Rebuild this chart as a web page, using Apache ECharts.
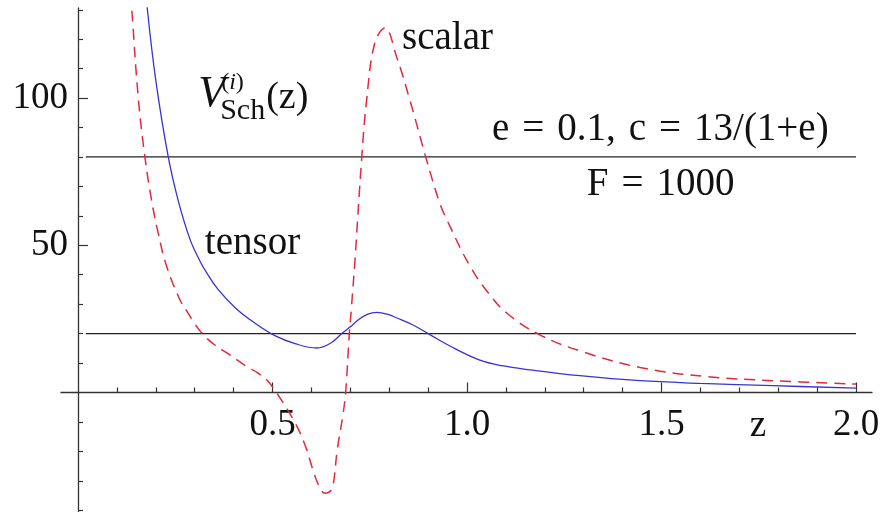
<!DOCTYPE html>
<html>
<head>
<meta charset="utf-8">
<script src="https://cdn.jsdelivr.net/npm/echarts@6/dist/echarts.min.js"></script>
<style>
  html, body { margin: 0; padding: 0; background: #ffffff; }
  #chart { width: 884px; height: 512px; }
</style>
</head>
<body>
<div id="chart"></div>
<script>
// Tensor mode of the Schrödinger-like potential (solid blue)
const tensorZ = [0.165, 0.178, 0.200, 0.232, 0.258, 0.288, 0.314, 0.331, 0.360, 0.404,
                 0.450, 0.506, 0.560, 0.614, 0.650, 0.678, 0.700, 0.720, 0.745, 0.768,
                 0.795, 0.820, 0.860, 0.900, 0.956, 1.033, 1.090, 1.162, 1.290, 1.445,
                 1.600, 1.787, 2.000];
const tensorV = [150, 130.6, 106, 80, 65.0, 52.0, 44.5, 40.6, 35.0, 28.8,
                 24.0, 19.3, 16.5, 15.1, 16.8, 20.0, 22.3, 24.6, 26.6, 27.2,
                 26.6, 25.3, 23.0, 20.0, 15.8, 11.0, 9.1, 7.7, 5.7, 4.0,
                 3.1, 2.3, 1.5];

// Scalar mode (dashed red)
const scalarZ = [0.128, 0.138, 0.155, 0.172, 0.189, 0.206, 0.228, 0.262, 0.279, 0.300,
                 0.322, 0.350, 0.382, 0.434, 0.460, 0.485, 0.510, 0.558, 0.584, 0.604,
                 0.620, 0.635, 0.648, 0.656, 0.666, 0.681, 0.688, 0.697, 0.703, 0.712,
                 0.729, 0.742, 0.763, 0.789, 0.819, 0.853, 0.896, 0.930, 0.948, 1.008,
                 1.055, 1.102, 1.188, 1.300, 1.445, 1.616, 1.787, 2.000];
const scalarV = [148, 130.6, 100, 80, 65.4, 54.2, 42.8, 31.5, 27.8, 23.4,
                 19.6, 16.3, 13.5, 8.8, 6.8, 4.3, 0.0, -10.3, -18.0, -26.3,
                 -31.9, -34.2, -33.6, -31.3, -20.0, -7.6, 0.0, 19.0, 29.0, 45.0,
                 79.0, 99.4, 118.7, 123.8, 114.0, 99.4, 79.0, 64.3, 58.7, 42.8,
                 33.8, 27.0, 19.5, 13.7, 8.5, 5.4, 4.0, 2.85];

// Horizontal reference levels
const levelValues = [80, 20];
const levelSpan = [0.02, 2.0];

// Axis ticks
const xMajorTicks = [0.5, 1.0, 1.5, 2.0];
const xMinorTicks = [0.1, 0.2, 0.3, 0.4, 0.6, 0.7, 0.8, 0.9, 1.1, 1.2, 1.3, 1.4, 1.6, 1.7, 1.8, 1.9];
const yMajorTicks = [50, 100];
const yMinorTicks = [-40, -30, -20, -10, 10, 20, 30, 40, 60, 70, 80, 90, 110, 120, 130];

const X_MIN = -0.0437, X_MAX = 2.0411;
const Y_MIN = -40.6, Y_MAX = 130.6;

const W = 884, H = 512;
const GRID = { left: 61, right: 12, top: 8, bottom: 0 };

const SERIF = '"Liberation Serif", "DejaVu Serif", serif';
const AXIS_COLOR = '#333333';
const SP = '\u2004'; // slightly wider word space used in the formula labels

function zip(xs, ys) { return xs.map((x, i) => [x, ys[i]]); }

// Distance from the grid edge to the zero line of the crossing axis
const plotW = W - GRID.left - GRID.right;
const plotH = H - GRID.top - GRID.bottom;
const zeroFromLeft = (0 - X_MIN) / (X_MAX - X_MIN) * plotW;
const zeroFromBottom = (0 - Y_MIN) / (Y_MAX - Y_MIN) * plotH;

const chart = echarts.init(document.getElementById('chart'), null, { renderer: 'canvas' });

function axisPair(dim) {
  const isX = dim === 'x';
  const base = {
    type: 'value',
    min: isX ? X_MIN : Y_MIN,
    max: isX ? X_MAX : Y_MAX,
    splitLine: { show: false },
    position: isX ? 'bottom' : 'left',
    offset: -(isX ? zeroFromBottom : zeroFromLeft)
  };
  const minor = Object.assign({}, base, {
    axisLine: { show: true, onZero: false, lineStyle: { color: AXIS_COLOR, width: 1.3 } },
    axisTick: { show: true, inside: true, length: 5, customValues: isX ? xMinorTicks : yMinorTicks,
                lineStyle: { color: AXIS_COLOR, width: 1.2 } },
    axisLabel: { show: false }
  });
  const major = Object.assign({}, base, {
    axisLine: { show: false, onZero: false },
    axisTick: { show: true, inside: true, length: 10, customValues: isX ? xMajorTicks : yMajorTicks,
                lineStyle: { color: AXIS_COLOR, width: 1.2 } },
    axisLabel: {
      show: true,
      customValues: isX ? xMajorTicks : yMajorTicks,
      fontFamily: SERIF, fontSize: 37, color: '#111111',
      margin: isX ? 14 : 10,
      formatter: isX ? (v) => Number(v).toFixed(1) : (v) => String(Math.round(v))
    }
  });
  return [minor, major];
}

const levelSeries = levelValues.map((v) => ({
  type: 'line',
  data: levelSpan.map((z) => [z, v]),
  symbol: 'none',
  silent: true,
  lineStyle: { color: '#222222', width: 1.3 },
  z: 1
}));

const option = {
  animation: false,
  backgroundColor: '#ffffff',
  grid: Object.assign({ containLabel: false, outerBoundsMode: 'none' }, GRID),
  xAxis: axisPair('x'),
  yAxis: axisPair('y'),
  series: levelSeries.concat([
    {
      name: 'scalar',
      type: 'line',
      data: zip(scalarZ, scalarV),
      symbol: 'none',
      smooth: 0.4,
      clip: true,
      lineStyle: { color: '#e2283c', width: 1.5, type: [11, 7] },
      z: 3
    },
    {
      name: 'tensor',
      type: 'line',
      data: zip(tensorZ, tensorV),
      symbol: 'none',
      smooth: 0.4,
      clip: true,
      lineStyle: { color: '#3434d4', width: 1.3 },
      z: 4
    }
  ])
};

chart.setOption(option);

// Text annotations anchored in data space (left edge, vertical middle)
const notes = [
  { at: [0.326, 50.5], text: 'tensor', size: 39 },
  { at: [0.833, 120.1], text: 'scalar', size: 39 },
  { at: [1.064, 89.2], text: ['e', '=', '0.1,', 'c', '=', '13/(1+e)'].join(SP), size: 39 },
  { at: [1.308, 70.5], text: ['F', '=', '1000'].join(SP), size: 39 },
  { at: [1.748, -11.5], text: 'z', size: 37, align: 'center' }
];
const potentialAnchor = [0.314, 101.1];

function toPx(p) { return chart.convertToPixel({ gridIndex: 0 }, p); }

const graphics = notes.map((n) => {
  const p = toPx(n.at);
  return {
    type: 'text',
    x: p[0], y: p[1],
    silent: true,
    style: {
      text: n.text,
      font: n.size + 'px ' + SERIF,
      fill: '#111111',
      textAlign: n.align || 'left',
      textVerticalAlign: 'middle'
    }
  };
});

const va = toPx(potentialAnchor);
graphics.push({
  type: 'group',
  x: va[0], y: va[1],
  silent: true,
  children: [
    { type: 'text', x: -2, y: 0,
      style: { text: 'V', font: 'italic 44px ' + SERIF, fill: '#111111', textAlign: 'left', textVerticalAlign: 'middle' } },
    { type: 'text', x: 20, y: 16,
      style: { text: 'Sch', font: '30px ' + SERIF, fill: '#111111', textAlign: 'left', textVerticalAlign: 'middle' } },
    { type: 'text', x: 21, y: -12,
      style: {
        text: '{p|(}{i|i}{p|)}',
        rich: {
          p: { font: '24px ' + SERIF, fill: '#111111' },
          i: { font: 'italic 24px ' + SERIF, fill: '#111111' }
        },
        textAlign: 'left', textVerticalAlign: 'middle'
      } },
    { type: 'text', x: 66, y: 3.5,
      style: { text: '(z)', font: '38px ' + SERIF, fill: '#111111', textAlign: 'left', textVerticalAlign: 'middle' } }
  ]
});

chart.setOption({ graphic: graphics });
</script>
</body>
</html>
